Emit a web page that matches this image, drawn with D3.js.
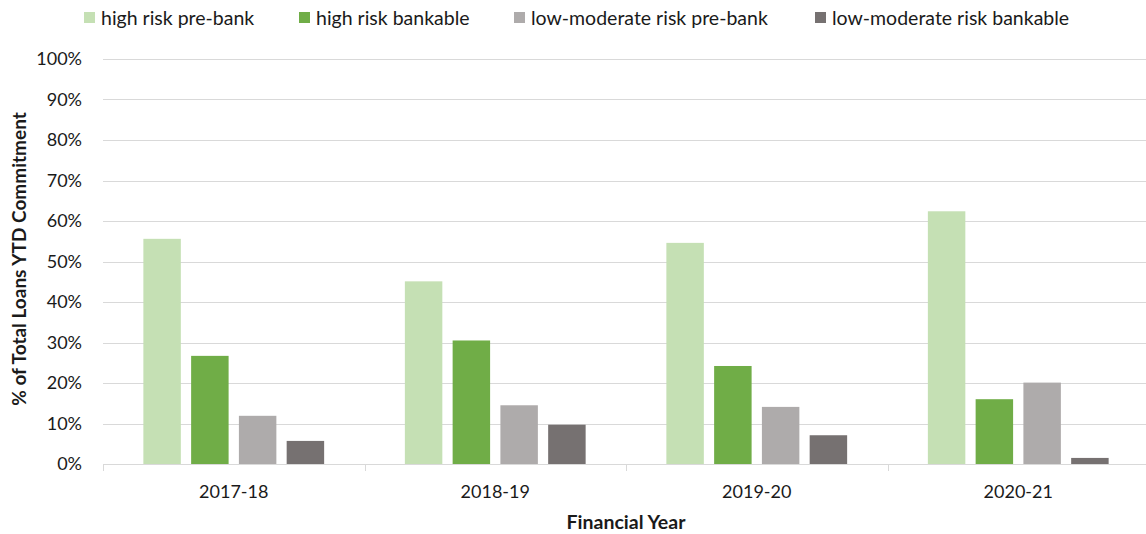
<!DOCTYPE html>
<html>
<head>
<meta charset="utf-8">
<script src="https://cdn.jsdelivr.net/npm/d3@7"></script>
<style>
  html, body { margin: 0; padding: 0; background: #fff; }
  svg { display: block; font-family: Lato, "Open Sans", sans-serif; }
</style>
</head>
<body>
<svg id="chart" width="1146" height="534"></svg>
<script>
// Financial years on the x axis
const years = ["2017-18", "2018-19", "2019-20", "2020-21"];

// Series names and colours
const seriesNames = ["high risk pre-bank", "high risk bankable", "low-moderate risk pre-bank", "low-moderate risk bankable"];
const seriesColors = ["#C5E0B4", "#70AD47", "#AEABAB", "#767171"];

// Share of total loans YTD commitment (%), one array per series, in year order
const highRiskPreBank = [55.6, 45.1, 54.6, 62.4];
const highRiskBankable = [26.7, 30.5, 24.2, 16.0];
const lowModPreBank = [11.9, 14.5, 14.1, 20.1];
const lowModBankable = [5.7, 9.7, 7.1, 1.5];

// Y axis ticks
const yTicks = [0, 10, 20, 30, 40, 50, 60, 70, 80, 90, 100];

const seriesValues = [highRiskPreBank, highRiskBankable, lowModPreBank, lowModBankable];

const svg = d3.select("#chart");
const margin = { left: 103, right: -3, top: 59, bottom: 70 };
const W = 1146, H = 534;
const plotW = W - margin.left - margin.right;
const plotH = H - margin.top - margin.bottom;
const textColor = "#1a1a1a";

const x = d3.scaleBand().domain(years).range([0, plotW]).paddingInner(0).paddingOuter(0);
const xs = d3.scaleBand().domain(d3.range(4)).range([0, x.bandwidth()])
  .paddingInner(0.2155).paddingOuter(0.845);
const y = d3.scaleLinear().domain([0, 100]).range([plotH, 0]);

const g = svg.append("g").attr("transform", `translate(${margin.left},${margin.top})`);

// Horizontal gridlines
g.append("g").selectAll("line").data(yTicks.filter(d => d > 0)).join("line")
  .attr("x1", 0).attr("x2", plotW)
  .attr("y1", d => Math.round(y(d)) + 0.5).attr("y2", d => Math.round(y(d)) + 0.5)
  .attr("stroke", "#D9D9D9").attr("stroke-width", 1);

// Y tick labels
g.append("g").selectAll("text").data(yTicks).join("text")
  .attr("x", -21).attr("y", d => y(d)).attr("dy", "0.35em")
  .attr("text-anchor", "end").attr("font-size", 18).attr("fill", textColor)
  .text(d => d + "%");

// Bars
const groups = g.append("g").selectAll("g").data(years).join("g")
  .attr("transform", d => `translate(${x(d)},0)`);
groups.selectAll("rect").data((yr, i) => seriesValues.map((vals, s) => ({ s, v: vals[i] }))).join("rect")
  .attr("x", d => xs(d.s)).attr("width", xs.bandwidth())
  .attr("y", d => y(d.v)).attr("height", d => y(0) - y(d.v))
  .attr("fill", d => seriesColors[d.s]);

// X axis line with band separators
const xAxis = g.append("g").attr("transform", `translate(0,${plotH})`);
xAxis.append("line").attr("x1", 0).attr("x2", plotW).attr("y1", 0.5).attr("y2", 0.5)
  .attr("stroke", "#D9D9D9").attr("stroke-width", 1);
xAxis.selectAll("line.tick").data(d3.range(years.length + 1)).join("line").attr("class", "tick")
  .attr("x1", i => Math.round(i * x.step()) + 0.5).attr("x2", i => Math.round(i * x.step()) + 0.5)
  .attr("y1", 0).attr("y2", 7).attr("stroke", "#D9D9D9");
xAxis.selectAll("text").data(years).join("text")
  .attr("x", d => x(d) + x.bandwidth() / 2).attr("y", 28).attr("dy", "0.35em")
  .attr("text-anchor", "middle").attr("font-size", 18).attr("fill", textColor)
  .text(d => d);

// Axis titles
svg.append("text").attr("x", 626).attr("y", 522).attr("dy", "0.35em")
  .attr("text-anchor", "middle").attr("font-size", 19.5).attr("font-weight", "bold").attr("fill", textColor)
  .text("Financial Year");
svg.append("text").attr("transform", "translate(19,259) rotate(-90)").attr("dy", "0.35em")
  .attr("text-anchor", "middle").attr("font-size", 19).attr("font-weight", "bold").attr("fill", textColor)
  .text("% of Total Loans YTD Commitment");

// Legend
const legendX = [84, 299, 514, 815];
const legend = svg.append("g").selectAll("g").data(seriesNames).join("g")
  .attr("transform", (d, i) => `translate(${legendX[i]},18)`);
legend.append("rect").attr("x", 0).attr("y", -6).attr("width", 11).attr("height", 11)
  .attr("fill", (d, i) => seriesColors[i]);
legend.append("text").attr("x", 17).attr("y", 0).attr("dy", "0.35em")
  .attr("font-size", 19.5).attr("fill", textColor).text(d => d);
</script>
</body>
</html>
